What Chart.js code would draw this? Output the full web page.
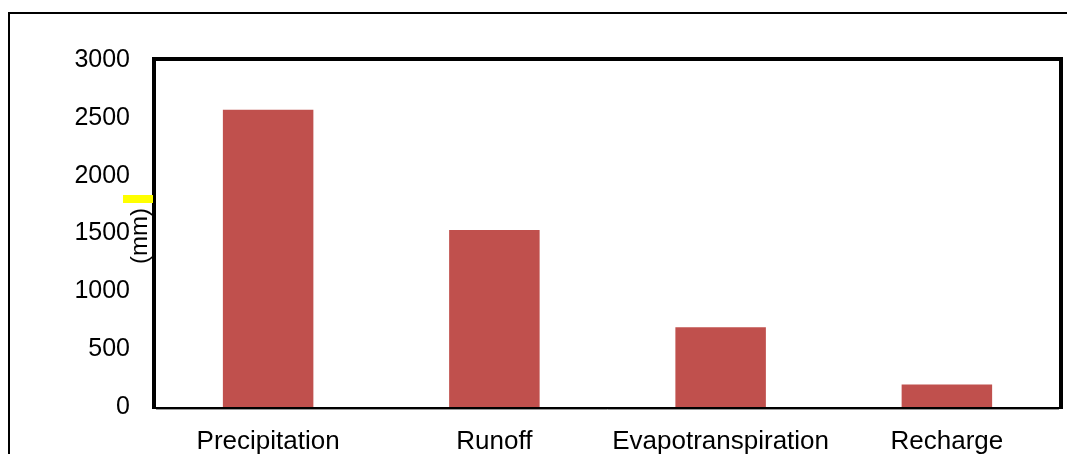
<!DOCTYPE html>
<html>
<head>
<meta charset="utf-8">
<script src="https://cdn.jsdelivr.net/npm/chart.js@4/dist/chart.umd.min.js"></script>
<style>
    html, body { margin: 0; padding: 0; background: #fff; }
    #wrap { width: 1067px; height: 454px; position: relative; }
</style>
</head>
<body>
<div id="wrap"><canvas id="waterChart"></canvas></div>
<script>
// Данные диаграммы
const categories = ['Precipitation', 'Runoff', 'Evapotranspiration', 'Recharge'];
const valuesMm = [2570, 1530, 690, 195];
const yTicks = [0, 500, 1000, 1500, 2000, 2500, 3000];

const FONT = '"Liberation Sans", Arial, sans-serif';

// Рамки и подпись оси рисуем вручную
const framePlugin = {
    id: 'frame',
    afterDraw(chart) {
        const ctx = chart.ctx;
        const a = chart.chartArea;
        ctx.save();

        // внешняя рамка
        ctx.strokeStyle = '#000';
        ctx.lineWidth = 2;
        ctx.beginPath();
        ctx.moveTo(9, 460);
        ctx.lineTo(9, 13);
        ctx.lineTo(1080, 13);
        ctx.stroke();

        // рамка области построения
        ctx.lineWidth = 4;
        ctx.beginPath();
        ctx.moveTo(a.left - 1, a.bottom + 2);
        ctx.lineTo(a.left - 1, a.top - 1);
        ctx.lineTo(a.right + 1, a.top - 1);
        ctx.lineTo(a.right + 1, a.bottom + 2);
        ctx.stroke();
        ctx.lineWidth = 2;
        ctx.beginPath();
        ctx.moveTo(a.left - 3, a.bottom + 1);
        ctx.lineTo(a.right + 3, a.bottom + 1);
        ctx.stroke();
        ctx.strokeStyle = '#9a9a9a';
        ctx.lineWidth = 1;
        ctx.beginPath();
        ctx.moveTo(a.left + 1, a.bottom + 2.5);
        ctx.lineTo(a.right - 1, a.bottom + 2.5);
        ctx.stroke();

        // жёлтая метка
        ctx.fillStyle = '#ffff00';
        ctx.fillRect(123, 195, 30, 8);

        // подпись оси Y
        ctx.translate(140, 236);
        ctx.rotate(-Math.PI / 2);
        ctx.fillStyle = '#000';
        ctx.font = '24px ' + FONT;
        ctx.textAlign = 'center';
        ctx.textBaseline = 'middle';
        ctx.fillText('(mm)', 0, 0);
        ctx.restore();
    }
};

const ctx = document.getElementById('waterChart').getContext('2d');
new Chart(ctx, {
    type: 'bar',
    data: {
        labels: categories,
        datasets: [{
            data: valuesMm,
            backgroundColor: '#C0504D',
            borderWidth: 0,
            categoryPercentage: 1.0,
            barPercentage: 0.4
        }]
    },
    options: {
        responsive: true,
        maintainAspectRatio: false,
        animation: false,
        layout: { padding: { top: 60, right: 7, left: 0, bottom: 0 } },
        plugins: {
            legend: { display: false },
            tooltip: { enabled: false }
        },
        scales: {
            x: {
                grid: { display: false, drawTicks: false },
                border: { display: false },
                ticks: {
                    color: '#000',
                    padding: 19,
                    maxRotation: 0,
                    font: { family: FONT, size: 26 }
                },
                afterFit(scale) { scale.height = 47; }
            },
            y: {
                min: 0,
                max: 3000,
                afterBuildTicks(scale) { scale.ticks = yTicks.map(v => ({ value: v })); },
                grid: { display: false, drawTicks: false },
                border: { display: false },
                ticks: {
                    color: '#000',
                    padding: 25,
                    callback: v => String(v),
                    font: { family: FONT, size: 25 }
                },
                afterFit(scale) { scale.width = 155; }
            }
        }
    },
    plugins: [framePlugin]
});
</script>
</body>
</html>
